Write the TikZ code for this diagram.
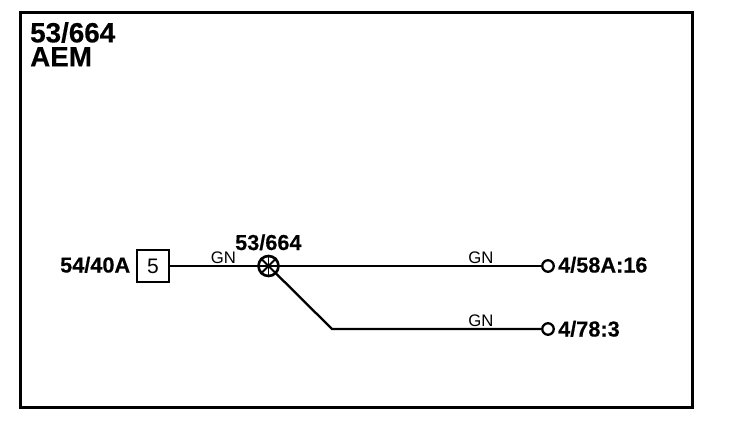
\documentclass[tikz,border=0pt]{standalone}
\usepackage{fontspec}
\setmainfont{Liberation Sans}
\newfontfamily\heavyfont[FakeBold=0.35]{Liberation Sans Bold}
\usetikzlibrary{positioning, calc}
\tikzset{
  wire/.style={line width=2.3pt},
  bigtxt/.style={font=\fontsize{27.8}{24}\heavyfont, inner sep=0pt, anchor=north west, align=left},
  pintxt/.style={font=\fontsize{21.7}{24}\heavyfont, inner sep=0pt, anchor=base west},
  colortxt/.style={font=\fontsize{16.7}{18}\selectfont, inner sep=0pt, anchor=base},
  pinbox/.style={draw, line width=2pt, minimum size=32pt, inner sep=0pt, font=\fontsize{21}{24}\selectfont},
  endpin/.style={draw, circle, line width=2.3pt, minimum size=11.5pt, inner sep=0pt},
  splice/.style={draw, circle, line width=2.6pt, minimum size=20pt, inner sep=0pt},
  spoke/.style={line width=1.8pt}
}
\begin{document}
\begin{tikzpicture}[x=1pt,y=-1pt]
    \useasboundingbox (0,0) rectangle (736,434);
    \node[draw, line width=3pt, minimum width=672pt, minimum height=395pt, inner sep=0pt] (frame) at (356.5,209.5) {};
    \node[bigtxt] (title) at (30,22) {53/664\\AEM};
    % wires
    \node[pinbox] (box) at (153,266) {5};
    \node[splice] (sp) at (268.5,266) {};
    \node[endpin] (pinA) at (548,266) {};
    \node[endpin] (pinB) at (548,329) {};
    \coordinate (bend) at (332,329);
    \draw[wire] (box) -- (sp);
    \draw[wire] (sp) -- (pinA);
    \draw[wire] (sp) -- (bend) -- (pinB);
    \draw[spoke] (sp.north) -- (sp.south);
    \draw[spoke] (sp.north west) -- (sp.south east);
    \draw[spoke] (sp.north east) -- (sp.south west);
    \draw[spoke] (sp.west) -- (sp.east);
    % labels
    \node[pintxt] (lbox) at (60,272.5) {54/40A};
    \node[pintxt] (lsp) at (235,250) {53/664};
    \node[pintxt] (lA) at (558,272.5) {4/58A:16};
    \node[pintxt] (lB) at (558,336.5) {4/78:3};
    \node[colortxt] (gn1) at (223.5,263) {GN};
    \node[colortxt] (gn2) at (481,263) {GN};
    \node[colortxt] (gn3) at (481,326) {GN};
\end{tikzpicture}
\end{document}
